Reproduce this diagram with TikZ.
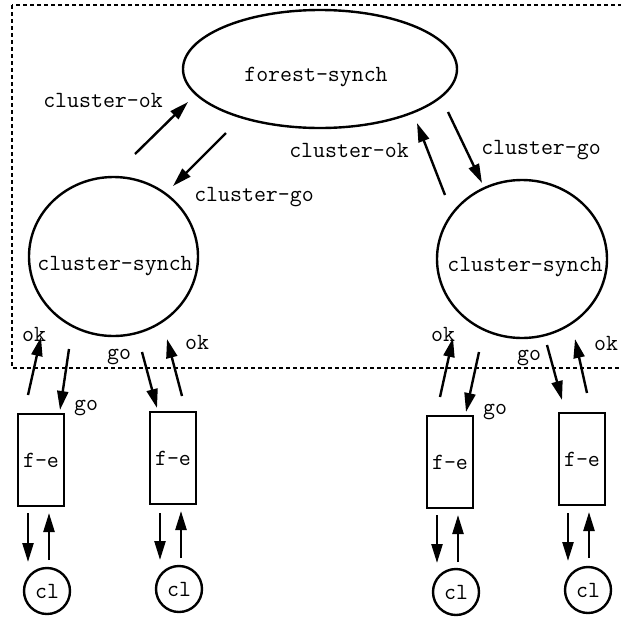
\documentclass[tikz,border=0pt]{standalone}
\usetikzlibrary{shapes.geometric,arrows.meta}
\begin{document}
\begin{tikzpicture}[x=1pt,y=-1pt,
 every node/.style={font=\ttfamily\fontsize{23.2}{27}\selectfont},
 shp/.style={draw,line width=2.4pt,inner sep=0pt},
 ell/.style={shp,ellipse},
 fbox/.style={shp,rectangle,minimum width=46pt,minimum height=92pt},
 clc/.style={shp,circle,minimum size=46pt},
 arr/.style={line width=2.4pt,-{Triangle[length=19pt,width=11pt]}},
 lbl/.style={inner sep=0pt}]
\useasboundingbox (0,0) rectangle (621,619);
\begin{scope}
\clip (0,0) rectangle (621,619);
\draw[line width=2.2pt,dash pattern=on 4pt off 3pt] (12,5) rectangle (640,368);
\end{scope}
% main nodes
\node[ell,minimum width=274pt,minimum height=118pt] (fs) at (320,69) {};
\node[lbl] (fst) at (316,77) {forest-synch};
\node[ell,minimum width=169pt,minimum height=159pt] (cs1) at (113.5,256.5) {};
\node[lbl] (cs1t) at (115,266) {cluster-synch};
\node[ell,minimum width=170pt,minimum height=158pt] (cs2) at (522,259) {};
\node[lbl] (cs2t) at (525,267) {cluster-synch};
% f-e boxes
\node[fbox] (fe1) at (41,460) {f-e};
\node[fbox] (fe2) at (173,458) {f-e};
\node[fbox] (fe3) at (450,462) {f-e};
\node[fbox] (fe4) at (582,459) {f-e};
% cl circles
\node[clc] (cl1) at (47,591) {cl};
\node[clc] (cl2) at (179,589) {cl};
\node[clc] (cl3) at (456,592) {cl};
\node[clc] (cl4) at (588,590) {cl};
% labels
\node[lbl] (l1) at (103,100) {cluster-ok};
\node[lbl] (l2) at (254,197) {cluster-go};
\node[lbl] (l3) at (349,150) {cluster-ok};
\node[lbl] (l4) at (541,150) {cluster-go};
\node[lbl] (o1) at (34,334) {ok};
\node[lbl] (g1) at (86,408) {go};
\node[lbl] (g2) at (119,357) {go};
\node[lbl] (o2) at (197,342) {ok};
\node[lbl] (o3) at (443,334) {ok};
\node[lbl] (g3) at (495,412) {go};
\node[lbl] (g4) at (529,358) {go};
\node[lbl] (o4) at (606,343) {ok};
% arrow end points
\coordinate (a1s) at (135,154); \coordinate (a1e) at (188,102);
\coordinate (a2s) at (226,133); \coordinate (a2e) at (173,186);
\coordinate (a3s) at (445,195); \coordinate (a3e) at (417,123);
\coordinate (a4s) at (448,112); \coordinate (a4e) at (482,183);
\coordinate (b1s) at (28,395);  \coordinate (b1e) at (41,337);
\coordinate (b2s) at (69,349);  \coordinate (b2e) at (60,410);
\coordinate (b3s) at (142,352); \coordinate (b3e) at (157,408);
\coordinate (b4s) at (182,396); \coordinate (b4e) at (167,339);
\coordinate (b5s) at (440,397); \coordinate (b5e) at (453,338);
\coordinate (b6s) at (479,352); \coordinate (b6e) at (466,412);
\coordinate (b7s) at (547,345); \coordinate (b7e) at (562,400);
\coordinate (b8s) at (587,393); \coordinate (b8e) at (575,339);
\coordinate (c1s) at (28,513);  \coordinate (c1e) at (28,562);
\coordinate (c2s) at (49,560);  \coordinate (c2e) at (49,513);
\coordinate (c3s) at (160,513); \coordinate (c3e) at (160,560);
\coordinate (c4s) at (181,558); \coordinate (c4e) at (181,511);
\coordinate (c5s) at (437,515); \coordinate (c5e) at (437,563);
\coordinate (c6s) at (458,562); \coordinate (c6e) at (458,515);
\coordinate (c7s) at (568,513); \coordinate (c7e) at (568,561);
\coordinate (c8s) at (589,558); \coordinate (c8e) at (589,512);
\foreach \n in {a1,a2,a3,a4,b1,b2,b3,b4,b5,b6,b7,b8,c1,c2,c3,c4,c5,c6,c7,c8}
  \draw[arr] (\n s) -- (\n e);
\end{tikzpicture}
\end{document}
